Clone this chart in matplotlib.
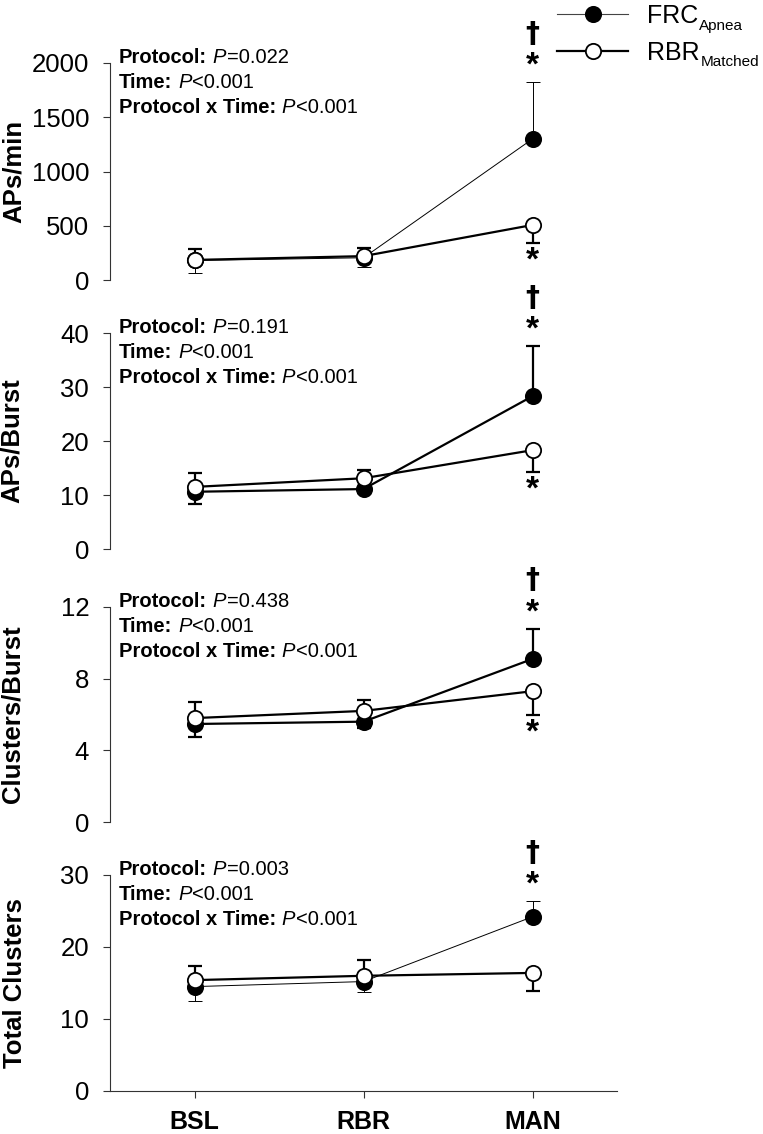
import matplotlib
matplotlib.use('Agg')
import matplotlib.pyplot as plt
from matplotlib.lines import Line2D
from matplotlib.text import Annotation
import numpy as np

plt.rcParams['font.family'] = ['Liberation Sans', 'DejaVu Sans']

# ---------------- data ----------------
conditions = ['BSL', 'RBR', 'MAN']

ylabels = ['APs/min', 'APs/Burst', 'Clusters/Burst', 'Total Clusters']

frc_aps_min = [180, 205, 1300]
frc_aps_min_sem = [115, 82, 525]
rbr_aps_min = [185, 220, 507]
rbr_aps_min_sem = [100, 78, 166]

frc_aps_burst = [10.6, 11.1, 28.3]
frc_aps_burst_sem = [2.3, 0.7, 9.3]
rbr_aps_burst = [11.5, 13.1, 18.3]
rbr_aps_burst_sem = [2.6, 1.5, 4.0]

frc_clusters_burst = [5.47, 5.6, 9.1]
frc_clusters_burst_sem = [0.72, 0.35, 1.7]
rbr_clusters_burst = [5.8, 6.2, 7.3]
rbr_clusters_burst_sem = [0.9, 0.6, 1.3]

frc_total_clusters = [14.5, 15.2, 24.2]
frc_total_clusters_sem = [2.0, 1.5, 2.2]
rbr_total_clusters = [15.4, 16.0, 16.4]
rbr_total_clusters_sem = [2.0, 2.2, 2.5]

stat_terms = ['Protocol:', 'Time:', 'Protocol x Time:']
p_protocol = ['=0.022', '=0.191', '=0.438', '=0.003']
p_time = ['<0.001', '<0.001', '<0.001', '<0.001']
p_interaction = ['<0.001', '<0.001', '<0.001', '<0.001']

# significance marks: FRC above (dagger + asterisk), RBR below (asterisk)
frc_dagger = [[False, False, True]] * 4
frc_star = [[False, False, True]] * 4
rbr_star = [[False, False, True], [False, False, True], [False, False, True], [False, False, False]]

ylims = [(0, 2000), (0, 40), (0, 12), (0, 30)]
yticks = [[0, 500, 1000, 1500, 2000], [0, 10, 20, 30, 40], [0, 4, 8, 12], [0, 10, 20, 30]]

legend_main = ['FRC', 'RBR']
legend_sub = ['Apnea', 'Matched']

frc_means = [frc_aps_min, frc_aps_burst, frc_clusters_burst, frc_total_clusters]
frc_sems = [frc_aps_min_sem, frc_aps_burst_sem, frc_clusters_burst_sem, frc_total_clusters_sem]
rbr_means = [rbr_aps_min, rbr_aps_burst, rbr_clusters_burst, rbr_total_clusters]
rbr_sems = [rbr_aps_min_sem, rbr_aps_burst_sem, rbr_clusters_burst_sem, rbr_total_clusters_sem]
p_vals = [p_protocol, p_time, p_interaction]

# ---------------- style ----------------
frc_lw = [0.7, 1.6, 1.6, 0.7]
rbr_lw = 1.6
W, H = 763, 1134
fig = plt.figure(figsize=(W / 100, H / 100), dpi=100)

left = 110 / W
width = 507 / W
axes_px = [(63, 280), (333, 549), (607, 822), (875, 1091)]
ylabel_x = [14, 12, 13, 15]

x = np.arange(len(conditions))
spine_col = '#333333'
STAT_FS = 14.5
SPACE_PT = 0.278 * STAT_FS

for i in range(4):
    top, bot = axes_px[i]
    hpx = bot - top
    ax = fig.add_axes([left, 1 - bot / H, width, hpx / H])
    ax.set_xlim(-0.5, 2.5)
    ax.set_ylim(*ylims[i])
    ax.set_yticks(yticks[i])
    ax.set_yticklabels([str(t) for t in yticks[i]])
    for s in ['top', 'right']:
        ax.spines[s].set_visible(False)
    for s in ['left', 'bottom']:
        ax.spines[s].set_color(spine_col)
        ax.spines[s].set_linewidth(0.8)
    ax.tick_params(axis='y', direction='out', length=5, width=0.8, color=spine_col,
                   labelsize=18.5, pad=10)
    if i < 3:
        ax.spines['bottom'].set_visible(False)
        ax.set_xticks([])
    else:
        ax.set_xticks(x)
        ax.set_xticklabels(conditions, fontsize=18, fontweight='bold')
        ax.tick_params(axis='x', direction='out', length=5, width=0.8, color=spine_col, pad=9)

    fm, fs = np.array(frc_means[i]), np.array(frc_sems[i])
    rm, rs = np.array(rbr_means[i]), np.array(rbr_sems[i])
    frc_up = fm > rm
    f_lo = np.where(frc_up, 0, fs)
    f_hi = np.where(frc_up, fs, 0)
    r_lo = np.where(frc_up, rs, 0)
    r_hi = np.where(frc_up, 0, rs)

    ax.errorbar(x, fm, yerr=[f_lo, f_hi], fmt='none', ecolor='black',
                elinewidth=frc_lw[i], capsize=4.7, capthick=frc_lw[i], zorder=2, clip_on=False)
    ax.errorbar(x, rm, yerr=[r_lo, r_hi], fmt='none', ecolor='black',
                elinewidth=rbr_lw, capsize=4.7, capthick=rbr_lw, zorder=2, clip_on=False)
    ax.plot(x, fm, color='black', lw=frc_lw[i], marker='o', ms=11, mfc='black',
            mec='black', mew=1.3, zorder=3, clip_on=False)
    ax.plot(x, rm, color='black', lw=rbr_lw, marker='o', ms=11, mfc='white',
            mec='black', mew=1.3, zorder=4, clip_on=False)

    for j in range(len(conditions)):
        top_y = fm[j] + f_hi[j]
        if frc_star[i][j]:
            ax.annotate('*', xy=(x[j], top_y), xytext=(0, 0),
                        textcoords='offset points', ha='center', va='bottom',
                        fontsize=24, fontweight='bold', annotation_clip=False)
        if frc_dagger[i][j]:
            ax.annotate('†', xy=(x[j], top_y), xytext=(0, 24.5),
                        textcoords='offset points', ha='center', va='bottom',
                        fontsize=20, fontweight='bold', family=['DejaVu Sans'],
                        annotation_clip=False)
        if rbr_star[i][j]:
            bot_y = rm[j] - r_lo[j]
            ax.annotate('*', xy=(x[j], bot_y), xytext=(0, -2),
                        textcoords='offset points', ha='center', va='top',
                        fontsize=24, fontweight='bold', annotation_clip=False)

    # statistics text (bold term, italic P, regular value)
    for k in range(3):
        yb = 1 - k * 25 / hpx
        t1 = ax.text(9 / 507, yb, stat_terms[k], transform=ax.transAxes,
                     ha='left', va='baseline', fontsize=STAT_FS, fontweight='bold')
        t2 = ax.annotate('P', xy=(1, 0), xycoords=t1, xytext=(SPACE_PT, 0),
                         textcoords='offset points', ha='left', va='bottom',
                         fontsize=STAT_FS, fontstyle='italic')
        ax.annotate(p_vals[k][i], xy=(1, 0), xycoords=t2, xytext=(0.3, 0),
                    textcoords='offset points', ha='left', va='bottom', fontsize=STAT_FS)

    ax.set_ylabel(ylabels[i], fontsize=18.5, fontweight='bold', va='center')
    ax.yaxis.set_label_coords((ylabel_x[i] - 110) / 507, 0.5)

handles = [
    Line2D([], [], color='#444444', lw=0.8, marker='o', ms=11, mfc='black', mec='black', mew=1.3),
    Line2D([], [], color='black', lw=1.6, marker='o', ms=11, mfc='white', mec='black', mew=1.3),
]
leg = fig.legend(handles, legend_main, loc='upper left', bbox_to_anchor=(557 / W, 1 - 4 / H),
                 frameon=False, fontsize=18, handlelength=2.84, handletextpad=0.76,
                 borderpad=0, borderaxespad=0, labelspacing=0.5)
leg.set_zorder(5)
for txt, sub in zip(leg.get_texts(), legend_sub):
    an = Annotation(sub, xy=(1, 0), xycoords=txt, xytext=(0.5, -3.3),
                    textcoords='offset points', ha='left', va='bottom', fontsize=11)
    an.set_figure(fig)
    an.set_zorder(10)
    fig.texts.append(an)

fig.savefig('out.png', dpi=100)
